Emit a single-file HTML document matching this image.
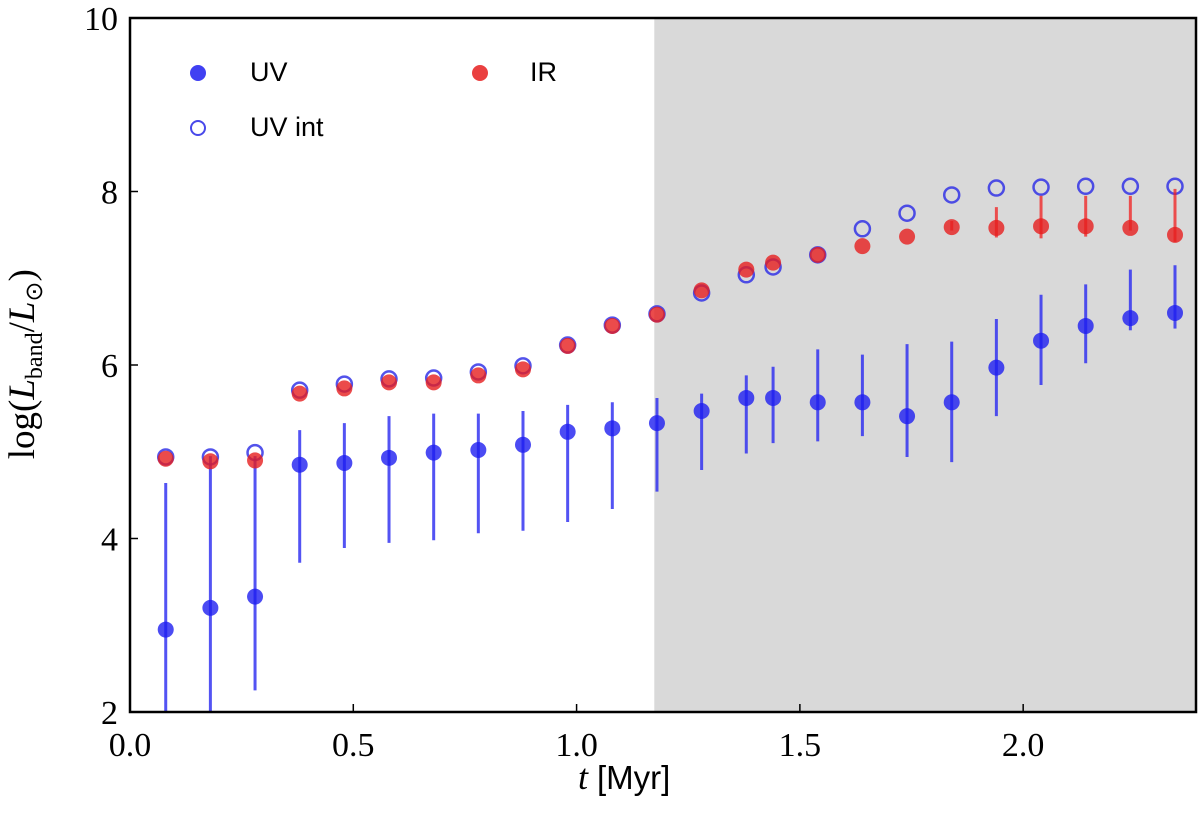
<!DOCTYPE html>
<html><head><meta charset="utf-8"><style>body{margin:0;background:#fff}svg{display:block}</style></head>
<body>
<svg id="chart" width="1200" height="836" xmlns="http://www.w3.org/2000/svg"></svg>
<script>
const tVals=[0.08,0.18,0.28,0.38,0.48,0.58,0.68,0.78,0.88,0.98,1.08,1.18,1.28,1.38,1.44,1.54,1.64,1.74,1.84,1.94,2.04,2.14,2.24,2.34];
const uv=[2.95,3.20,3.33,4.85,4.87,4.93,4.99,5.02,5.08,5.23,5.27,5.33,5.47,5.62,5.62,5.57,5.57,5.41,5.57,5.97,6.28,6.45,6.54,6.60];
const uvHi=[4.64,4.95,4.95,5.25,5.33,5.41,5.44,5.44,5.47,5.54,5.57,5.62,5.67,5.88,5.98,6.18,6.12,6.24,6.27,6.53,6.81,6.93,7.10,7.15];
const uvLo=[1.5,1.5,2.25,3.72,3.89,3.95,3.98,4.06,4.09,4.19,4.34,4.54,4.79,4.98,5.10,5.12,5.18,4.94,4.88,5.41,5.77,6.02,6.40,6.42];
const uvInt=[4.94,4.94,4.99,5.71,5.78,5.84,5.85,5.92,5.99,6.23,6.46,6.59,6.83,7.04,7.13,7.27,7.57,7.75,7.96,8.04,8.05,8.06,8.06,8.06];
const ir=[4.92,4.89,4.90,5.67,5.73,5.80,5.80,5.88,5.95,6.22,6.45,6.58,6.86,7.10,7.18,7.27,7.37,7.48,7.59,7.58,7.60,7.60,7.58,7.50];
const irHi=[4.92,4.89,4.90,5.67,5.73,5.80,5.80,5.88,5.95,6.22,6.45,6.58,6.86,7.10,7.18,7.27,7.37,7.48,7.66,7.82,7.95,7.95,7.95,8.03];
const irLo=[4.92,4.89,4.90,5.67,5.73,5.80,5.80,5.88,5.95,6.22,6.45,6.58,6.86,7.10,7.18,7.27,7.37,7.48,7.55,7.47,7.46,7.48,7.55,7.42];
const xTicks=[0.0,0.5,1.0,1.5,2.0];
const xTickLabels=["0.0","0.5","1.0","1.5","2.0"];
const yTicks=[2,4,6,8,10];
const shadeStart=1.174;
const X0=130,X1=1196,Y0=18,Y1=712,xMin=0,xMax=2.387,yMin=2,yMax=10;
const sx=v=>X0+(v-xMin)/(xMax-xMin)*(X1-X0);
const sy=v=>Y1-(v-yMin)/(yMax-yMin)*(Y1-Y0);
const svg=document.getElementById('chart');const NS='http://www.w3.org/2000/svg';
function mk(tag,a,parent){const e=document.createElementNS(NS,tag);for(const k in a)e.setAttribute(k,a[k]);(parent||svg).appendChild(e);return e;}
const clip=mk('clipPath',{id:'pc'});mk('rect',{x:X0,y:Y0,width:X1-X0,height:Y1-Y0},clip);
let s=mk('rect',{x:sx(shadeStart),y:Y0,width:X1-sx(shadeStart),height:Y1-Y0,fill:'#d9d9d9'});


const g=mk('g',{'clip-path':'url(#pc)'});


tVals.forEach((t,i)=>{
 let e=mk('line',{x1:sx(t),x2:sx(t),y1:sy(uvHi[i]),y2:sy(uvLo[i]),stroke:'rgba(40,40,240,0.8)','stroke-width':3},g);
 
 
 let c=mk('circle',{cx:sx(t),cy:sy(uv[i]),r:8,fill:'rgba(30,30,240,0.8)'},g);
 
 
});
tVals.forEach((t,i)=>{
 let o=mk('circle',{cx:sx(t),cy:sy(uvInt[i]),r:7.5,fill:'none',stroke:'rgba(40,40,230,0.8)','stroke-width':2.5},g);
 
 
 if(irHi[i]-irLo[i]>0.01){let e=mk('line',{x1:sx(t),x2:sx(t),y1:sy(irHi[i]),y2:sy(irLo[i]),stroke:'rgba(240,30,30,0.75)','stroke-width':3},g);
 
 }
 let c=mk('circle',{cx:sx(t),cy:sy(ir[i]),r:8,fill:'rgba(230,30,30,0.8)'},g);
 
 
});
let fr=mk('rect',{x:X0,y:Y0,width:X1-X0,height:Y1-Y0,fill:'none',stroke:'#000','stroke-width':2.5});


const font='"Liberation Serif",serif';
xTicks.forEach((v,i)=>{mk('line',{x1:sx(v),x2:sx(v),y1:Y1,y2:Y1-8,stroke:'#000','stroke-width':1.5});
 let t=mk('text',{x:sx(v),y:Y1+44,'font-family':font,'font-size':34,'text-anchor':'middle'});t.textContent=xTickLabels[i];
 
 });
yTicks.forEach(v=>{mk('line',{x1:X0,x2:X0+8,y1:sy(v),y2:sy(v),stroke:'#000','stroke-width':1.5});
 let t=mk('text',{x:X0-12,y:sy(v)+12,'font-family':font,'font-size':34,'text-anchor':'end'});t.textContent=v;
 
 });
</script>
<div style="position:absolute;left:578px;top:756px;font:36px 'Liberation Serif',serif"><i>t</i> <span style="font-family:'Liberation Sans',sans-serif;font-size:33px">[Myr]</span></div>
<div style="position:absolute;left:-155px;top:340px;width:360px;text-align:center;transform:rotate(-90deg);font:37px 'Liberation Serif',serif">log(<i>L</i><sub style="font-size:24px">band</sub>/<i>L</i><sub style="font-size:24px">⊙</sub>)</div>
<div style="position:absolute;left:180px;top:57px;font:27px 'Liberation Sans',sans-serif">
 <div style="position:absolute;left:0;top:0;width:200px"><span style="position:absolute;left:10px;top:8px;width:16px;height:16px;border-radius:50%;background:rgba(30,30,240,0.85)"></span><span style="position:absolute;left:70px;top:0">UV</span></div>
 <div style="position:absolute;left:0;top:55px;width:200px"><span style="position:absolute;left:10px;top:8px;width:12px;height:12px;border-radius:50%;border:2.5px solid rgba(40,40,230,0.85)"></span><span style="position:absolute;left:70px;top:0">UV int</span></div>
 <div style="position:absolute;left:282px;top:0;width:200px"><span style="position:absolute;left:10px;top:8px;width:16px;height:16px;border-radius:50%;background:rgba(230,30,30,0.85)"></span><span style="position:absolute;left:68px;top:0">IR</span></div>
</div>
</body></html>
